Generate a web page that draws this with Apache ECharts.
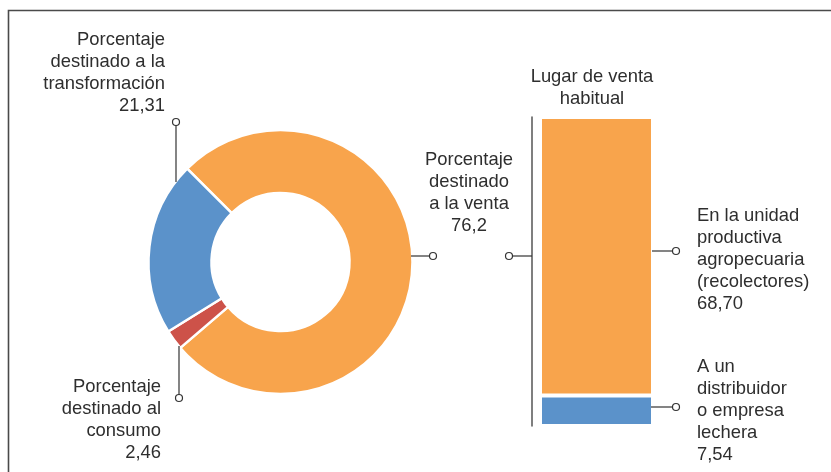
<!DOCTYPE html>
<html>
<head>
<meta charset="utf-8">
<script src="https://cdn.jsdelivr.net/npm/echarts@6/dist/echarts.min.js"></script>
<style>html,body{margin:0;padding:0;background:#fff}#c{width:831px;height:472px}</style>
</head>
<body>
<div id="c"></div>
<script>
// ---- data ----
const pieCategories = ['Porcentaje\ndestinado\na la venta', 'Porcentaje\ndestinado al\nconsumo', 'Porcentaje\ndestinado a la\ntransformación'];
const pieValues = [76.2, 2.46, 21.31];
const pieValueLabels = ['76,2', '2,46', '21,31'];
const pieColors = ['#F8A44C', '#CD5249', '#5B92CA'];

const barTitle = 'Lugar de venta\nhabitual';
const barCategories = ['En la unidad\nproductiva\nagropecuaria\n(recolectores)', 'A un\ndistribuidor\no empresa\nlechera'];
const barValues = [68.70, 7.54];
const barValueLabels = ['68,70', '7,54'];
const barColors = ['#F8A44C', '#5B92CA'];

// ---- chart ----
const chart = echarts.init(document.getElementById('c'), null, {renderer: 'canvas'});
const FONT = '18.4px "Liberation Sans", Arial, sans-serif';
const TXT = '#2e2e2e';
const LINE = '#333';

function txt(text, x, y, align) {
  return {type: 'text', x: x, y: y, z: 10, silent: true,
    style: {text: text, font: FONT, fill: TXT, align: align, verticalAlign: 'top', lineHeight: 22}};
}
function seg(x1, y1, x2, y2) {
  return {type: 'line', z: 10, silent: true, shape: {x1: x1, y1: y1, x2: x2, y2: y2},
    style: {stroke: LINE, lineWidth: 1.2}};
}
function dot(x, y) {
  return {type: 'circle', z: 11, silent: true, shape: {cx: x, cy: y, r: 3.5},
    style: {fill: '#fff', stroke: LINE, lineWidth: 1.2}};
}

const total = barValues[0] + barValues[1];

const option = {
  animation: false,
  backgroundColor: '#fff',
  grid: {left: 540, width: 113, top: 117, bottom: 46},
  xAxis: {type: 'category', data: [barTitle], show: false},
  yAxis: {type: 'value', min: 0, max: total, position: 'left', offset: 8,
    axisLine: {show: true, lineStyle: {color: '#555', width: 1.5}},
    axisTick: {show: false}, axisLabel: {show: false}, splitLine: {show: false}},
  series: [
    {type: 'pie', center: [280.5, 262], radius: [69, 132], startAngle: 135, clockwise: true,
      label: {show: false}, labelLine: {show: false}, silent: true,
      itemStyle: {borderColor: '#fff', borderWidth: 2.5},
      data: pieValues.map((v, i) => ({name: pieCategories[i], value: v, itemStyle: {color: pieColors[i]}}))},
    {type: 'bar', stack: 's', barWidth: '100%', silent: true,
      data: [barValues[1]], itemStyle: {color: barColors[1], borderColor: '#fff', borderWidth: 2}},
    {type: 'bar', stack: 's', barWidth: '100%', silent: true,
      data: [barValues[0]], itemStyle: {color: barColors[0], borderColor: '#fff', borderWidth: 2}}
  ],
  graphic: [
    {type: 'rect', z: 0, silent: true, shape: {x: 8.5, y: 10.5, width: 900, height: 600},
      style: {fill: 'none', stroke: '#4a4a4a', lineWidth: 1.6}},
    // pie labels
    txt(pieCategories[2] + '\n' + pieValueLabels[2], 165, 29, 'right'),
    seg(176, 125, 176, 182), dot(176, 122),
    txt(pieCategories[1] + '\n' + pieValueLabels[1], 161, 376, 'right'),
    seg(179, 346, 179, 395), dot(179, 398),
    txt(pieCategories[0] + '\n' + pieValueLabels[0], 469, 149, 'center'),
    seg(411, 256, 430, 256), dot(433, 256),
    // bar block
    txt(barTitle, 592, 66, 'center'),
    seg(512, 256, 532, 256), dot(509, 256),
    seg(652, 251, 673, 251), dot(676, 251),
    seg(651, 407, 673, 407), dot(676, 407),
    txt(barCategories[0] + '\n' + barValueLabels[0], 697, 205, 'left'),
    txt(barCategories[1] + '\n' + barValueLabels[1], 697, 356, 'left')
  ]
};
chart.setOption(option);
</script>
</body>
</html>
